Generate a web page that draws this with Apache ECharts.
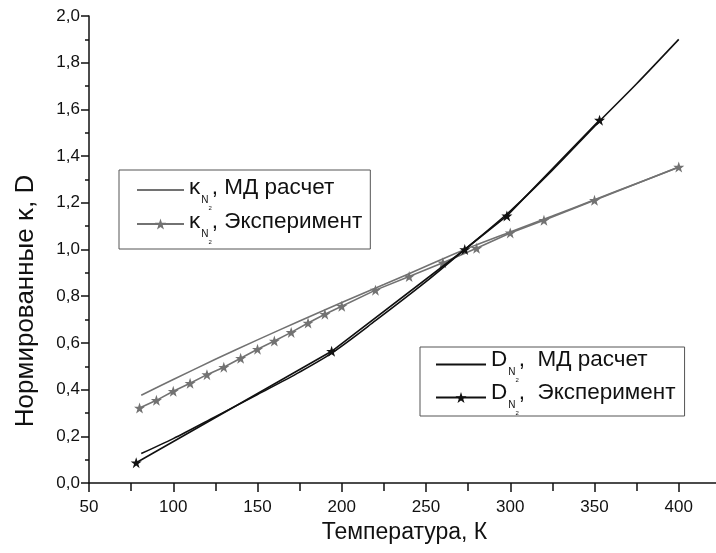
<!DOCTYPE html>
<html>
<head>
<meta charset="utf-8">
<script src="https://cdn.jsdelivr.net/npm/echarts@6/dist/echarts.min.js"></script>
<style>
html,body{margin:0;padding:0;background:#fff;}
#chart{width:716px;height:553px;}
</style>
</head>
<body>
<div id="chart"></div>
<script>
// ---- data ----
const xTicks = [50, 100, 150, 200, 250, 300, 350, 400];
const yTicks = [0, 0.2, 0.4, 0.6, 0.8, 1.0, 1.2, 1.4, 1.6, 1.8, 2.0];

const kappaMD_T = [81, 100, 125, 150, 175, 200, 225, 250, 273, 300, 325, 350, 375, 400];
const kappaMD_V = [0.376, 0.443, 0.530, 0.613, 0.694, 0.773, 0.850, 0.928, 1.000, 1.075, 1.143, 1.213, 1.283, 1.352];

const kappaExp_T = [80, 90, 100, 110, 120, 130, 140, 150, 160, 170, 180, 190, 200, 220, 240, 260, 280, 300, 320, 350, 400];
const kappaExp_V = [0.321, 0.354, 0.393, 0.427, 0.464, 0.496, 0.534, 0.573, 0.608, 0.645, 0.685, 0.723, 0.757, 0.826, 0.884, 0.943, 1.005, 1.071, 1.125, 1.211, 1.353];

const dMD_T = [81, 100, 125, 150, 175, 194, 220, 250, 273, 300, 325, 353, 375, 400];
const dMD_V = [0.126, 0.190, 0.284, 0.379, 0.475, 0.556, 0.695, 0.862, 1.000, 1.165, 1.340, 1.550, 1.710, 1.900];

const dExp_T = [78, 194, 273, 298, 353];
const dExp_V = [0.087, 0.564, 1.000, 1.144, 1.554];

const xName = 'Температура, К';
const yName = 'Нормированные κ, D';

// ---- chart ----
const FONT = '"Liberation Sans", Arial, sans-serif';
const STAR = 'path://M50,2 L61.8,36.2 L97.6,36.2 L68.6,57.4 L79.6,91.6 L50,70.4 L20.4,91.6 L31.4,57.4 L2.4,36.2 L38.2,36.2 Z';
const GRAY = '#727272';
const BLACK = '#111111';

function zip(xs, ys) { return xs.map((x, i) => [x, ys[i]]); }

const legendLabels = {
  'kMD': '{m|κ}{s|N}{ss|2}{m|, МД расчет}',
  'kExp': '{m|κ}{s|N}{ss|2}{m|, Эксперимент}',
  'dMD': '{m|D}{s|N}{ss|2}{m|,  МД расчет}',
  'dExp': '{m|D}{s|N}{ss|2}{m|,  Эксперимент}'
};
// c: vertical centre of the main text inside the label block
function richFor(c) {
  return {
    m: { fontSize: 22.5, fontFamily: FONT, color: BLACK, verticalAlign: 'top', padding: [c - 11, 0, 0, 0] },
    s: { fontSize: 10, fontFamily: FONT, color: BLACK, verticalAlign: 'top', padding: [c + 13 - 5, 0, 0, 1] },
    ss: { fontSize: 6, fontFamily: FONT, color: BLACK, verticalAlign: 'top', padding: [c + 21 - 3, 0, 0, 0] }
  };
}

const chart = echarts.init(document.getElementById('chart'), null, { renderer: 'canvas' });
chart.setOption({
  animation: false,
  backgroundColor: '#fff',
  grid: { left: 89, top: 16, bottom: 70, right: -47, containLabel: false, outerBoundsMode: 'none' },
  legend: [
    {
      data: ['kMD', 'kExp'],
      orient: 'vertical',
      left: 119, top: 170,
      padding: [6, 8, 4, 17],
      itemGap: -1,
      itemWidth: 47, itemHeight: 14,
      itemTextGap: 5,
      borderColor: '#555', borderWidth: 1,
      formatter: n => legendLabels[n],
      textStyle: { rich: richFor(18) }
    },
    {
      data: ['dMD', 'dExp'],
      orient: 'vertical',
      left: 420, top: 347,
      padding: [1, 9, 0, 15],
      itemGap: -2,
      itemWidth: 50, itemHeight: 14,
      itemTextGap: 5,
      borderColor: '#555', borderWidth: 1,
      formatter: n => legendLabels[n],
      textStyle: { rich: richFor(13) }
    }
  ],
  xAxis: {
    type: 'value',
    min: 50, max: 450, interval: 50,
    name: xName,
    nameLocation: 'middle',
    nameGap: 37,
    nameTextStyle: { fontSize: 23, fontFamily: FONT, color: BLACK, padding: [0, 43, 0, 0] },
    axisLine: { lineStyle: { color: BLACK, width: 1.5 } },
    axisTick: { inside: false, length: 9, lineStyle: { color: BLACK, width: 1.5 } },
    minorTick: { show: true, splitNumber: 2, length: 8, lineStyle: { color: BLACK, width: 1.5 } },
    axisLabel: { fontSize: 17, fontFamily: FONT, color: BLACK, margin: 16,
      formatter: v => (xTicks.indexOf(v) >= 0 ? String(v) : '') },
    splitLine: { show: false }
  },
  yAxis: {
    type: 'value',
    min: 0, max: 2, interval: 0.2,
    name: yName,
    nameLocation: 'middle',
    nameGap: 50,
    nameRotate: 90,
    nameTextStyle: { fontSize: 26, fontFamily: FONT, color: BLACK, padding: [0, 103, 0, 0] },
    axisLine: { show: true, lineStyle: { color: BLACK, width: 1.5 } },
    axisTick: { show: true, inside: false, length: 8, lineStyle: { color: BLACK, width: 1.5 } },
    minorTick: { show: true, splitNumber: 2, length: 4, lineStyle: { color: BLACK, width: 1.5 } },
    axisLabel: { fontSize: 17, fontFamily: FONT, color: BLACK, margin: 9,
      formatter: v => {
        const t = yTicks.find(y => Math.abs(y - v) < 1e-6);
        return t === undefined ? '' : t.toFixed(1).replace('.', ',');
      } },
    splitLine: { show: false }
  },
  series: [
    {
      name: 'kMD', type: 'line', data: zip(kappaMD_T, kappaMD_V),
      smooth: 0.3, symbol: 'none',
      lineStyle: { color: GRAY, width: 1.6 }, itemStyle: { color: GRAY, opacity: 0 }, z: 2
    },
    {
      name: 'kExp', type: 'line', data: zip(kappaExp_T, kappaExp_V),
      symbol: STAR, symbolSize: 11,
      lineStyle: { color: GRAY, width: 1.6 }, itemStyle: { color: GRAY }, z: 3
    },
    {
      name: 'dMD', type: 'line', data: zip(dMD_T, dMD_V),
      smooth: 0.3, symbol: 'none',
      lineStyle: { color: BLACK, width: 1.6 }, itemStyle: { color: BLACK, opacity: 0 }, z: 4
    },
    {
      name: 'dExp', type: 'line', data: zip(dExp_T, dExp_V),
      symbol: STAR, symbolSize: 11,
      lineStyle: { color: BLACK, width: 1.6 }, itemStyle: { color: BLACK }, z: 5
    }
  ]
});
</script>
</body>
</html>
